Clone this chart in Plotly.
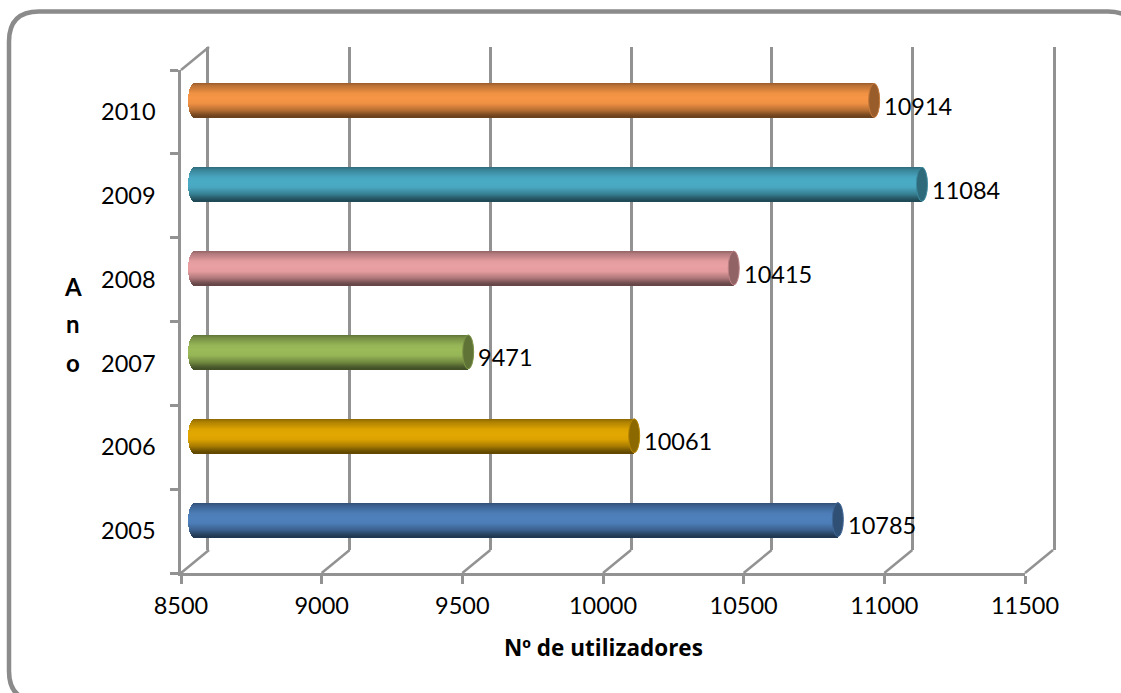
import math
import plotly.graph_objects as go

# Chart data
years = ["2005", "2006", "2007", "2008", "2009", "2010"]
users = [10785, 10061, 9471, 10415, 11084, 10914]
value_ticks = [8500, 9000, 9500, 10000, 10500, 11000, 11500]
base_colors = ["#4f81bd", "#e3a802", "#9bbb59", "#eba1a4", "#4bacc6", "#f79646"]

W, H = 1121, 693
FONT = "Lato"
TEXT_SIZE = 23.5
GRAY = "#929292"
LINE_W = 2.5
AXIS_MIN, AXIS_MAX = value_ticks[0], value_ticks[-1]

# The floor and walls of the pseudo-3D box, in page pixels
FRONT_L, FRONT_R, FRONT_T, FRONT_B = 181, 1025, 70, 573
DEPTH_X, DEPTH_Y = 28, 23
BAR_PX = 34
BAND_PX = (FRONT_B - FRONT_T) / len(years)
CAP_LEAD = 7


def fx(px):
    return px / W


def fy(py):
    return 1 - py / H


def xdom(shift):
    return [fx(FRONT_L + shift), fx(FRONT_R + shift)]


def ydom(shift):
    return [fy(FRONT_B - shift), fy(FRONT_T - shift)]


def rgb(hex_color):
    return tuple(int(hex_color[i:i + 2], 16) for i in (1, 3, 5))


def shade(hex_color, k):
    r, g, b = rgb(hex_color)
    return f"rgb({min(255, int(r * k))},{min(255, int(g * k))},{min(255, int(b * k))})"


# Brightness across the cylinder, top edge to bottom edge
SHADE_STOPS = [(0, .62), (.08, .76), (.3, .97), (.45, 1.0), (.6, .97),
               (.8, .74), (.92, .52), (1, .42)]


def brightness(t):
    for (a, ka), (b, kb) in zip(SHADE_STOPS, SHADE_STOPS[1:]):
        if t <= b:
            return ka + (kb - ka) * (t - a) / (b - a)
    return SHADE_STOPS[-1][1]


fig = go.Figure()

# Invisible anchors so the back wall and the front axes are always built
fig.add_trace(go.Scatter(x=users, y=years, mode="markers", marker=dict(opacity=0),
                         xaxis="x", yaxis="y", hoverinfo="skip", showlegend=False))

# Each bar is a stack of one-pixel strips, which gives the cylinder its shading
for i in range(BAR_PX):
    t = (i + .5) / BAR_PX
    colors = [shade(c, brightness(t)) for c in base_colors]
    offset = (BAR_PX / 2 - i - 1) / BAND_PX
    height = 1.4 / BAND_PX
    fig.add_trace(go.Bar(x=users, y=years, orientation="h", offset=offset, width=height,
                         marker=dict(color=colors, line=dict(width=0)),
                         xaxis="x2", yaxis="y2", hoverinfo="skip", showlegend=False))
    # Rounded start of the cylinder
    u = 2 * t - 1
    lead = CAP_LEAD * math.sqrt(max(0, 1 - u * u))
    fig.add_trace(go.Bar(x=[-lead] * len(years), y=years, orientation="h", offset=offset, width=height,
                         marker=dict(color=colors, line=dict(width=0)),
                         xaxis="x4", yaxis="y2", hoverinfo="skip", showlegend=False))

fig.add_trace(go.Scatter(x=users, y=years, mode="markers", marker=dict(opacity=0),
                         xaxis="x3", yaxis="y3", hoverinfo="skip", showlegend=False))

shapes = []

# Outer rounded frame, running off the right and bottom of the page
fl, ft, fr, fb, rad = 9, 11.5, 1138, 701, 30
pts = [("M", fl, ft + rad), ("Q", fl, ft, fl + rad, ft), ("L", fr - rad, ft),
       ("Q", fr, ft, fr, ft + rad), ("L", fr, fb - rad), ("Q", fr, fb, fr - rad, fb),
       ("L", fl + rad, fb), ("Q", fl, fb, fl, fb - rad)]
path = ""
for p in pts:
    coords = p[1:]
    pairs = [f"{fx(coords[k]):.5f},{fy(coords[k + 1]):.5f}" for k in range(0, len(coords), 2)]
    path += p[0] + " ".join(pairs) + " "
shapes.append(dict(type="path", path=path + "Z", xref="paper", yref="paper",
                   line=dict(color="#8b8b8b", width=4.5), layer="below"))

# Floor edges joining each front tick to its gridline on the back wall
scale = (FRONT_R - FRONT_L) / (AXIS_MAX - AXIS_MIN)
for v in value_ticks:
    px = FRONT_L + (v - AXIS_MIN) * scale
    shapes.append(dict(type="line", xref="paper", yref="paper", x0=fx(px), y0=fy(FRONT_B),
                       x1=fx(px + DEPTH_X), y1=fy(FRONT_B - DEPTH_Y),
                       line=dict(color=GRAY, width=LINE_W), layer="below"))
# Top edge of the side wall
shapes.append(dict(type="line", xref="paper", yref="paper", x0=fx(FRONT_L), y0=fy(FRONT_T),
                   x1=fx(FRONT_L + DEPTH_X), y1=fy(FRONT_T - DEPTH_Y),
                   line=dict(color=GRAY, width=LINE_W), layer="below"))

# Far ends of the cylinders, anchored on each value
for idx, (val, col) in enumerate(zip(users, base_colors)):
    shapes.append(dict(type="circle", xref="x2", yref="y2", xsizemode="pixel", ysizemode="pixel",
                       xanchor=val, yanchor=idx, x0=-5.5, x1=5.5, y0=-17, y1=17,
                       fillcolor=shade(col, .62), line=dict(color=shade(col, .8), width=1), layer="above"))

annotations = []
# Value labels beside the bar ends
for idx, val in enumerate(users):
    annotations.append(dict(x=val, y=idx, xref="x3", yref="y3", text=str(val), showarrow=False,
                            xanchor="left", yanchor="middle", xshift=22, yshift=6,
                            font=dict(family=FONT, size=TEXT_SIZE, color="black")))
# Vertical axis title, set letter by letter
for letter, py in zip("Ano", [286, 324, 362]):
    annotations.append(dict(x=fx(73), y=fy(py), xref="paper", yref="paper", text=f"<b>{letter}</b>",
                            showarrow=False, xanchor="center", yanchor="middle",
                            font=dict(family=FONT, size=24, color="black")))
annotations.append(dict(x=fx(603), y=fy(647), xref="paper", yref="paper", text="<b>Nº de utilizadores</b>",
                        showarrow=False, xanchor="center", yanchor="middle",
                        font=dict(family="Open Sans", size=22.5, color="black")))

cat_axis = dict(type="category", categoryorder="array", categoryarray=years,
                range=[-.5, len(years) - .5], automargin=False)
bar_shift = (DEPTH_X / 2, DEPTH_Y / 2)

fig.update_layout(
    template="none",
    width=W, height=H, autosize=False, margin=dict(l=0, r=0, t=0, b=0, pad=0),
    paper_bgcolor="white", plot_bgcolor="rgba(0,0,0,0)",
    showlegend=False, barmode="overlay", bargap=0,
    font=dict(family=FONT, size=TEXT_SIZE, color="black"),
    shapes=shapes, annotations=annotations,
    # Back wall: gridlines, with its two outer uprights as axis lines
    xaxis=dict(domain=xdom(DEPTH_X), range=[AXIS_MIN, AXIS_MAX], tick0=AXIS_MIN, dtick=500,
               showgrid=True, gridcolor=GRAY, gridwidth=LINE_W, showticklabels=False, ticks="",
               zeroline=False, showline=False, anchor="y", automargin=False),
    yaxis=dict(domain=ydom(DEPTH_Y), showgrid=False, showticklabels=False, ticks="",
               zeroline=False, showline=True, mirror=True, linecolor=GRAY, linewidth=LINE_W,
               anchor="x", **cat_axis),
    # Mid-depth plane carrying the bars
    xaxis2=dict(domain=xdom(bar_shift[0]), range=[AXIS_MIN, AXIS_MAX], visible=False, anchor="y2",
                automargin=False),
    yaxis2=dict(domain=ydom(bar_shift[1]), visible=False, anchor="x2", **cat_axis),
    # Front plane: the visible axes
    xaxis3=dict(domain=xdom(0), range=[AXIS_MIN, AXIS_MAX], tick0=AXIS_MIN, dtick=500, showgrid=False,
                tickformat="d", zeroline=False, showline=True, linecolor=GRAY, linewidth=LINE_W,
                ticks="outside", ticklen=8, tickwidth=LINE_W, tickcolor=GRAY, anchor="y3",
                ticklabelstandoff=2, automargin=False,
                tickfont=dict(family=FONT, size=TEXT_SIZE, color="black")),
    yaxis3=dict(domain=ydom(0), showgrid=False, zeroline=False, showline=True, linecolor=GRAY,
                linewidth=LINE_W, ticks="outside", ticklen=8, tickwidth=LINE_W, tickcolor=GRAY,
                tickson="boundaries", anchor="x3", ticklabelstandoff=18,
                tickfont=dict(family=FONT, size=TEXT_SIZE, color="black"), **cat_axis),
    # Narrow axis for the rounded start of each bar, in pixels
    xaxis4=dict(domain=[fx(FRONT_L + bar_shift[0] - CAP_LEAD), fx(FRONT_L + bar_shift[0])],
                range=[-CAP_LEAD, 0], visible=False, anchor="y2", automargin=False),
)

fig.write_html("out.html")
